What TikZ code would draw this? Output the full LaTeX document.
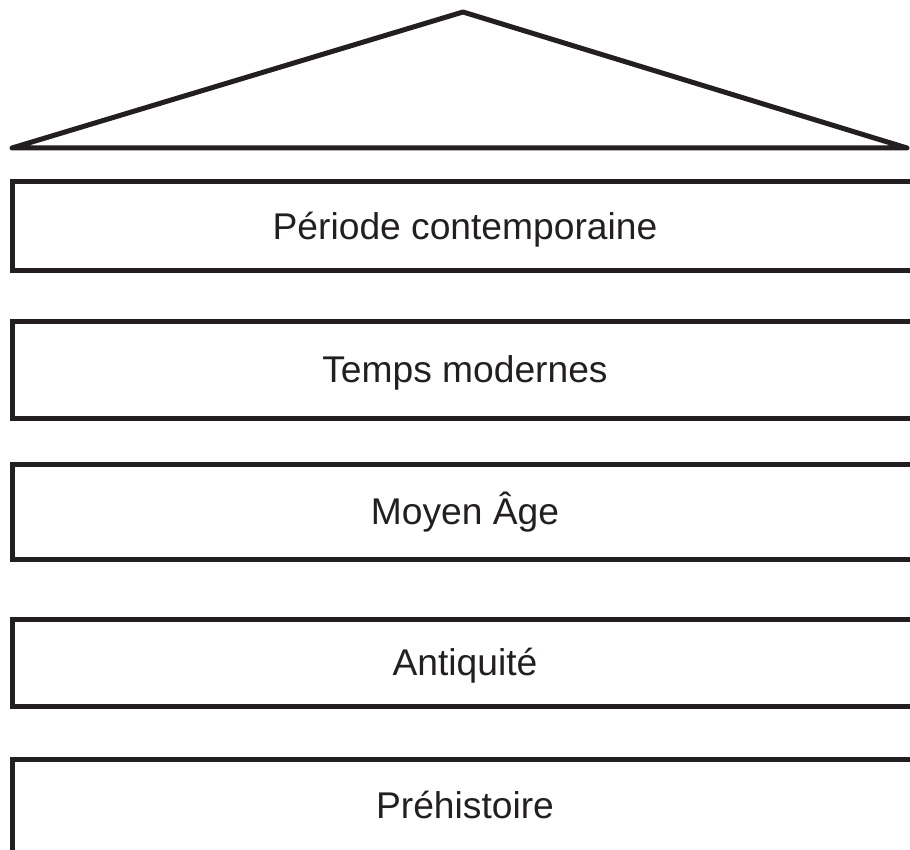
\documentclass[tikz,border=0pt]{standalone}
\usepackage{fontspec}
\setmainfont{Liberation Sans}
\definecolor{ink}{HTML}{231F20}
\begin{document}
\begin{tikzpicture}[x=1pt,y=-1pt,
  period/.style={draw=ink, line width=5pt, minimum width=906pt, inner sep=0pt,
    text=ink, font=\fontsize{37.2}{44}\selectfont, text height=26.6pt, text depth=0pt},
  roofline/.style={draw=ink, line width=5pt, line join=round, line cap=round}]
\useasboundingbox (0,0) rectangle (910,850);
\clip (0,0) rectangle (910,850);
\coordinate (apex) at (463,12);
\coordinate (eaveL) at (12,148);
\coordinate (eaveR) at (907,148);
\draw[roofline] (eaveL) -- (apex) -- (eaveR) -- cycle;
\node[period, minimum height=89pt] (b1) at (465,226) {Période contemporaine};
\node[period, minimum height=97pt] (b2) at (465,369.5) {Temps modernes};
\node[period, minimum height=95pt] (b3) at (465,511.5) {Moyen Âge};
\node[period, minimum height=87pt] (b4) at (465,662.5) {Antiquité};
\node[period, minimum height=93pt] (b5) at (465,805.5) {Préhistoire};
\end{tikzpicture}
\end{document}
